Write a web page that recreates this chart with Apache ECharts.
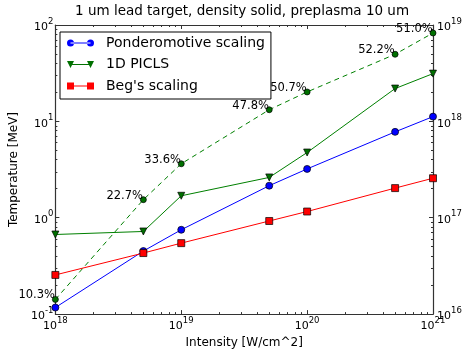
<!DOCTYPE html>
<html>
<head>
<meta charset="utf-8">
<script src="https://cdn.jsdelivr.net/npm/echarts@6/dist/echarts.min.js"></script>
<style>
html, body { margin: 0; padding: 0; background: #fff; }
#chart { width: 465px; height: 354px; }
</style>
</head>
<body>
<div id="chart"></div>
<script>
// values
const intensity = [1e18, 5e18, 1e19, 5e19, 1e20, 5e20, 1e21];
const ponderomotive = [0.117, 0.451, 0.75, 2.15, 3.21, 7.78, 11.2];
const picls = [0.67, 0.72, 1.69, 2.62, 4.75, 21.9, 31.3];
const begs = [0.255, 0.43, 0.545, 0.925, 1.16, 2.03, 2.57];
const conversion = [0.142, 1.54, 3.63, 13.2, 20.2, 49.7, 82.6];
const conversionLabels = ['10.3%', '22.7%', '33.6%', '47.8%', '50.7%', '52.2%', '51.0%'];

const xDecades = [18, 19, 20, 21];
const yDecades = [-1, 0, 1, 2];
const y2Decades = [16, 17, 18, 19];

const FONT = 'DejaVu Sans';
const AXIS_COLOR = '#333';

// minor tick positions (in exponent space) for the overlay axes
const minorTicks = (decades) => {
  const out = [];
  for (let i = 0; i < decades.length - 1; i++) {
    for (let m = 2; m <= 9; m++) out.push(decades[i] + Math.log10(m));
  }
  return out;
};

const pow10Label = (v) => '{b|10}{s|' + Math.round(Math.log10(v)) + '}';
const supRich = {
  b: { fontSize: 11, fontFamily: FONT, color: '#000', lineHeight: 16, verticalAlign: 'bottom' },
  s: { fontSize: 8.5, fontFamily: FONT, color: '#000', lineHeight: 9, verticalAlign: 'top' }
};

const line = { show: true, onZero: false, lineStyle: { color: AXIS_COLOR, width: 1.2 } };
const noLine = { show: false, onZero: false };

// log axis carrying data, with major ticks
const logAxis = (min, max, position, labels, extra) => Object.assign({
  type: 'log', logBase: 10, min, max, position,
  axisLine: line,
  axisTick: { show: true, inside: true, length: 4, lineStyle: { color: AXIS_COLOR } },
  axisLabel: labels
    ? { show: true, formatter: pow10Label, rich: supRich, margin: position === 'right' ? 4 : 2 }
    : { show: false },
  splitLine: { show: false }
}, extra || {});

// tick-only overlay axis in exponent space for minor ticks
const minorAxis = (decades, position) => ({
  type: 'value', min: decades[0], max: decades[decades.length - 1], position,
  axisLine: noLine,
  axisTick: { show: true, inside: true, length: 2, customValues: minorTicks(decades), lineStyle: { color: AXIS_COLOR } },
  axisLabel: { show: false },
  splitLine: { show: false }
});

const chart = echarts.init(document.getElementById('chart'));

chart.setOption({
  animation: false,
  backgroundColor: '#fff',
  title: {
    text: '1 um lead target, density solid, preplasma 10 um',
    left: 75, top: 4, padding: 0,
    textStyle: { fontFamily: FONT, fontSize: 13.5, fontWeight: 'normal', color: '#000' }
  },
  grid: { left: 53, right: 32, top: 25, bottom: 34 },
  legend: {
    orient: 'vertical',
    left: 60, top: 32,
    padding: [4, 6, 6, 7],
    itemGap: 7.5,
    itemWidth: 27, itemHeight: 7,
    borderColor: '#000', borderWidth: 1, borderRadius: 0,
    textStyle: { fontFamily: FONT, fontSize: 14, color: '#000', padding: [0, 0, 0, 7] },
    data: [
      { name: 'Ponderomotive scaling', itemStyle: { borderWidth: 0 },
        icon: 'path://M0,3.5 A3.5,3.5 0 1,0 7,3.5 A3.5,3.5 0 1,0 0,3.5 Z M3.5,3 L23.5,3 L23.5,4 L3.5,4 Z M20,3.5 A3.5,3.5 0 1,0 27,3.5 A3.5,3.5 0 1,0 20,3.5 Z' },
      { name: '1D PICLS', itemStyle: { borderWidth: 0 },
        icon: 'path://M0,0 L7,0 L3.5,7 Z M3.5,3 L23.5,3 L23.5,4 L3.5,4 Z M20,0 L27,0 L23.5,7 Z' },
      { name: "Beg's scaling", itemStyle: { borderWidth: 0 },
        icon: 'path://M0,0 L7,0 L7,7 L0,7 Z M3.5,3 L23.5,3 L23.5,4 L3.5,4 Z M20,0 L27,0 L27,7 L20,7 Z' }
    ]
  },
  xAxis: [
    logAxis(1e18, 1e21, 'bottom', true, {
      name: 'Intensity [W/cm^2]', nameLocation: 'middle', nameGap: 21,
      nameTextStyle: { fontFamily: FONT, fontSize: 12, color: '#000' }
    }),
    minorAxis(xDecades, 'bottom'),
    logAxis(1e18, 1e21, 'top', false),
    minorAxis(xDecades, 'top')
  ],
  yAxis: [
    logAxis(0.1, 100, 'left', true, {
      name: 'Temperature [MeV]', nameLocation: 'middle', nameGap: 34,
      nameTextStyle: { fontFamily: FONT, fontSize: 12, color: '#000' }
    }),
    minorAxis(yDecades, 'left'),
    logAxis(1e16, 1e19, 'right', true),
    minorAxis(y2Decades, 'right')
  ],
  series: [
    {
      name: 'Ponderomotive scaling', type: 'line',
      data: intensity.map((x, i) => [x, ponderomotive[i]]),
      symbol: 'circle', symbolSize: 7,
      lineStyle: { color: '#0000ff', width: 1 },
      itemStyle: { color: '#0000ff', borderColor: '#000', borderWidth: 0.7 }
    },
    {
      name: '1D PICLS', type: 'line',
      data: intensity.map((x, i) => [x, picls[i]]),
      symbol: 'triangle', symbolRotate: 180, symbolSize: 7,
      lineStyle: { color: '#008000', width: 1 },
      itemStyle: { color: '#007000', borderColor: '#000', borderWidth: 0.7 }
    },
    {
      name: "Beg's scaling", type: 'line',
      data: intensity.map((x, i) => [x, begs[i]]),
      symbol: 'rect', symbolSize: 7,
      lineStyle: { color: '#ff0000', width: 1 },
      itemStyle: { color: '#ff0000', borderColor: '#000', borderWidth: 0.7 }
    },
    {
      name: 'conversion', type: 'line',
      data: intensity.map((x, i) => [x, conversion[i]]),
      symbol: 'circle', symbolSize: 6,
      lineStyle: { color: '#008000', width: 1, type: [5, 4] },
      itemStyle: { color: '#007000', borderColor: '#000', borderWidth: 0.7 },
      label: {
        show: true, position: 'left', distance: 0, offset: [3, -4],
        formatter: (p) => conversionLabels[p.dataIndex],
        fontFamily: FONT, fontSize: 11.5, color: '#000'
      }
    }
  ]
});
</script>
</body>
</html>
